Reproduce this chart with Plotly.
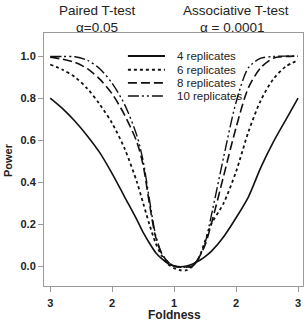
import plotly.graph_objects as go

# Foldness grids (left panel: paired T-test, right panel: associative T-test)
fold_left = [3.0, 2.8, 2.6, 2.4, 2.2, 2.0, 1.8, 1.6, 1.5, 1.4, 1.3, 1.2, 1.1, 1.0]
fold_right = [1.0, 1.1, 1.2, 1.3, 1.4, 1.5, 1.6, 1.8, 2.0, 2.2, 2.4, 2.6, 2.8, 3.0]

series_names = ["4 replicates", "6 replicates", "8 replicates", "10 replicates"]

power_left = {
    "4 replicates":  [0.80, 0.75, 0.69, 0.62, 0.54, 0.44, 0.33, 0.22, 0.16, 0.11, 0.065, 0.035, 0.012, 0.0],
    "6 replicates":  [0.96, 0.935, 0.90, 0.845, 0.77, 0.68, 0.56, 0.40, 0.30, 0.20, 0.11, 0.05, 0.01, -0.01],
    "8 replicates":  [0.995, 0.985, 0.97, 0.94, 0.89, 0.82, 0.72, 0.59, 0.48, 0.30, 0.14, 0.06, 0.02, 0.0],
    "10 replicates": [0.998, 0.998, 0.997, 0.98, 0.94, 0.87, 0.77, 0.62, 0.50, 0.32, 0.15, 0.06, 0.02, 0.0],
}
power_right = {
    "4 replicates":  [0.0, -0.003, 0.0, 0.01, 0.025, 0.045, 0.07, 0.14, 0.23, 0.33, 0.47, 0.59, 0.695, 0.80],
    "6 replicates":  [-0.01, -0.02, -0.02, 0.0, 0.04, 0.12, 0.20, 0.30, 0.45, 0.64, 0.79, 0.89, 0.95, 0.98],
    "8 replicates":  [0.0, -0.005, -0.005, 0.0, 0.04, 0.10, 0.20, 0.43, 0.66, 0.85, 0.945, 0.99, 0.998, 1.0],
    "10 replicates": [0.0, -0.005, -0.005, 0.0, 0.04, 0.11, 0.24, 0.52, 0.78, 0.945, 0.99, 0.998, 1.0, 1.0],
}

tick_vals = [-2, -1, 0, 1, 2]
tick_text = ["3", "2", "1", "2", "3"]
y_ticks = [0.0, 0.2, 0.4, 0.6, 0.8, 1.0]

dashes = {
    "4 replicates": "solid",
    "6 replicates": "dot",
    "8 replicates": "9px,4px",
    "10 replicates": "11px,3px,2px,3px,2px,3px",
}
widths = {"4 replicates": 1.6, "6 replicates": 1.8, "8 replicates": 1.6, "10 replicates": 1.4}

FONT = "Liberation Sans, Arial"
TXT = "#222222"

fig = go.Figure()
for name in series_names:
    xs = [-(f - 1) for f in fold_left] + [f - 1 for f in fold_right[1:]]
    ys = power_left[name] + power_right[name][1:]
    fig.add_trace(go.Scatter(
        x=xs, y=ys, mode="lines", name=name, showlegend=False,
        line=dict(color="#111111", width=widths[name], dash=dashes[name], shape="spline", smoothing=0.8),
    ))

axis_common = dict(showline=True, linecolor="#9a9a9a", linewidth=1, mirror=True,
                   showgrid=False, zeroline=False, ticks="outside", ticklen=5,
                   tickcolor="#9a9a9a", automargin=False,
                   tickfont=dict(family=FONT, size=11, color=TXT, weight="bold"))

fig.update_layout(
    width=306, height=324,
    margin=dict(l=44, r=3, t=33, b=38, autoexpand=False),
    paper_bgcolor="white", plot_bgcolor="white",
    xaxis=dict(range=[-2.1, 2.08], tickvals=tick_vals, ticktext=tick_text, ticklabelstandoff=2,
               **axis_common),
    yaxis=dict(range=[-0.095, 1.11], tickvals=y_ticks, tickformat=".1f",
               **axis_common),
    showlegend=False,
    font=dict(family=FONT),
)

# Axis titles
fig.add_annotation(text="<b>Foldness</b>", xref="paper", yref="paper", x=0.502, y=-0.113,
                   showarrow=False, xanchor="center", yanchor="middle",
                   font=dict(family=FONT, size=12, color=TXT))
fig.add_annotation(text="<b>Power</b>", xref="paper", yref="paper", x=-0.139, y=0.498,
                   showarrow=False, xanchor="center", yanchor="middle", textangle=-90,
                   font=dict(family=FONT, size=11, color=TXT))

# Manual legend (compact row spacing as in the reference)
leg_rows_y = [0.909, 0.855, 0.803, 0.751]
for name, yy in zip(series_names, leg_rows_y):
    fig.add_shape(type="line", xref="paper", yref="paper", x0=0.324, x1=0.467, y0=yy, y1=yy,
                  line=dict(color="#111111", width=widths[name] + 0.3, dash=dashes[name]))
    fig.add_annotation(text=name, xref="paper", yref="paper", x=0.506, y=yy,
                       showarrow=False, xanchor="left", yanchor="middle",
                       font=dict(family=FONT, size=11.5, color=TXT))

ann_font = dict(family=FONT, size=13.5, color=TXT)
fig.add_annotation(text="Paired T-test", xref="paper", yref="paper", x=0.205, y=1.088,
                   showarrow=False, xanchor="center", yanchor="middle", font=ann_font)
fig.add_annotation(text="α=0.05", xref="paper", yref="paper", x=0.205, y=1.022,
                   showarrow=False, xanchor="center", yanchor="middle", font=ann_font)
fig.add_annotation(text="Associative T-test", xref="paper", yref="paper", x=0.741, y=1.088,
                   showarrow=False, xanchor="center", yanchor="middle", font=ann_font)
fig.add_annotation(text="α = 0.0001", xref="paper", yref="paper", x=0.726, y=1.022,
                   showarrow=False, xanchor="center", yanchor="middle", font=ann_font)

fig.write_html("out.html")
